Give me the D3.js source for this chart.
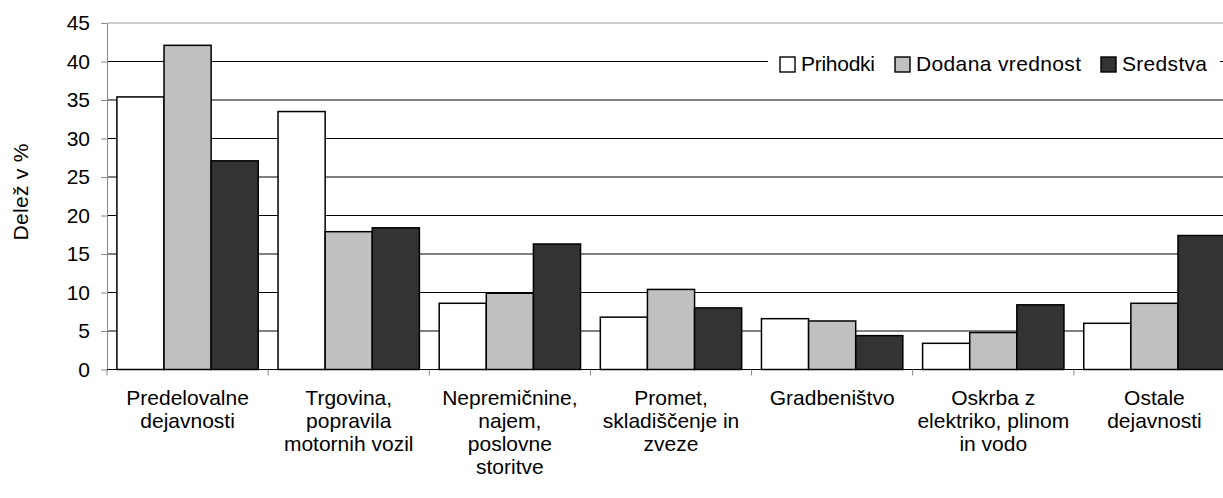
<!DOCTYPE html>
<html>
<head>
<meta charset="utf-8">
<script src="https://cdn.jsdelivr.net/npm/d3@7"></script>
<style>
  html, body { margin: 0; padding: 0; background: #fff; overflow: hidden; }
  svg text { font-family: "Liberation Sans", Arial, sans-serif; fill: #000; }
</style>
</head>
<body>
<svg id="chart" width="1223" height="498"></svg>
<script>
// category labels, already broken into lines as in the original
const categories = [
  ["Predelovalne", "dejavnosti"],
  ["Trgovina,", "popravila", "motornih vozil"],
  ["Nepremičnine,", "najem,", "poslovne", "storitve"],
  ["Promet,", "skladiščenje in", "zveze"],
  ["Gradbeništvo"],
  ["Oskrba z", "elektriko, plinom", "in vodo"],
  ["Ostale", "dejavnosti"]
];
const seriesNames = ["Prihodki", "Dodana vrednost", "Sredstva"];
const prihodki = [35.4, 33.5, 8.6, 6.8, 6.6, 3.4, 6.0];
const dodana   = [42.1, 17.9, 9.9, 10.4, 6.3, 4.8, 8.6];
const sredstva = [27.1, 18.4, 16.3, 8.0, 4.4, 8.4, 17.4];
const yTicks = [0, 5, 10, 15, 20, 25, 30, 35, 40, 45];
const fills = ["#FFFFFF", "#C0C0C0", "#333333"];

const L = 107, T = 23, B = 369.5, R = 1235;   // plot area runs past the right edge, like the source
const svg = d3.select("#chart");
const FS = 21;

const series = [prihodki, dodana, sredstva];
const catIdx = categories.map((_, i) => i);
const x0 = d3.scaleBand().domain(catIdx).range([L, R]).padding(0);
const x1 = d3.scaleBand().domain(seriesNames).range([0, x0.bandwidth()]).paddingOuter(0.21);
const y = d3.scaleLinear().domain([0, 45]).range([B, T]);

// gridlines
svg.append("g")
  .selectAll("line")
  .data(yTicks.filter((t) => t > 0 && t < 45))
  .join("line")
  .attr("x1", L).attr("x2", R)
  .attr("y1", (d) => y(d)).attr("y2", (d) => y(d))
  .attr("stroke", "#000").attr("stroke-width", 1);
// top border
svg.append("line").attr("x1", L).attr("x2", R).attr("y1", y(45)).attr("y2", y(45))
  .attr("stroke", "#999").attr("stroke-width", 1.2);

// legend box hides the 40 gridline behind it
const lg = svg.append("g");
lg.append("rect").attr("x", 768).attr("y", 50).attr("width", 452).attr("height", 26).attr("fill", "#fff");
const legendX = [780, 895, 1101];
const legendW = [74, 165, 85];
seriesNames.forEach((s, i) => {
  lg.append("rect").attr("x", legendX[i]).attr("y", 57).attr("width", 15).attr("height", 15)
    .attr("fill", fills[i]).attr("stroke", "#000").attr("stroke-width", 1.4);
  lg.append("text").attr("x", legendX[i] + 21).attr("y", 70.5).attr("font-size", FS)
    .attr("textLength", legendW[i]).attr("lengthAdjust", "spacing").text(s);
});

// bars
const rows = catIdx.map((i) => seriesNames.map((s, k) => ({ cat: i, s, k, v: series[k][i] })));
svg.append("g")
  .selectAll("g")
  .data(rows)
  .join("g")
  .attr("transform", (d, i) => `translate(${x0(i)},0)`)
  .selectAll("rect")
  .data((d) => d)
  .join("rect")
  .attr("x", (d) => x1(d.s))
  .attr("y", (d) => y(d.v))
  .attr("width", x1.bandwidth())
  .attr("height", (d) => y(0) - y(d.v))
  .attr("fill", (d) => fills[d.k])
  .attr("stroke", "#000")
  .attr("stroke-width", 1.5);

// y axis
const yAxis = svg.append("g").attr("transform", `translate(${L},0)`)
  .call(d3.axisLeft(y).tickValues(yTicks).tickSize(6).tickPadding(11).tickSizeOuter(0));
yAxis.select(".domain").attr("stroke", "#888");
yAxis.selectAll(".tick line").attr("stroke", "#888");
yAxis.selectAll("text").attr("font-size", FS).attr("font-family", "Liberation Sans, Arial, sans-serif");

// x axis line + category ticks
svg.append("line").attr("x1", L).attr("x2", R).attr("y1", B).attr("y2", B)
  .attr("stroke", "#000").attr("stroke-width", 1.2);
svg.append("g")
  .selectAll("line")
  .data(d3.range(categories.length + 1))
  .join("line")
  .attr("x1", (i) => L + i * x0.step()).attr("x2", (i) => L + i * x0.step())
  .attr("y1", B).attr("y2", B + 6)
  .attr("stroke", "#888");

// category labels
svg.append("g")
  .selectAll("text")
  .data(categories)
  .join("text")
  .attr("text-anchor", "middle")
  .attr("font-size", FS)
  .attr("transform", (d, i) => `translate(${x0(i) + x0.bandwidth() / 2},405)`)
  .selectAll("tspan")
  .data((d) => d)
  .join("tspan")
  .attr("x", 0)
  .attr("y", (d, j) => j * 23)
  .text((d) => d);

// y title
svg.append("text")
  .attr("transform", `translate(28,192) rotate(-90)`)
  .attr("text-anchor", "middle")
  .attr("font-size", 21)
  .attr("textLength", 97)
  .attr("lengthAdjust", "spacing")
  .text("Delež v %");
</script>
</body>
</html>
